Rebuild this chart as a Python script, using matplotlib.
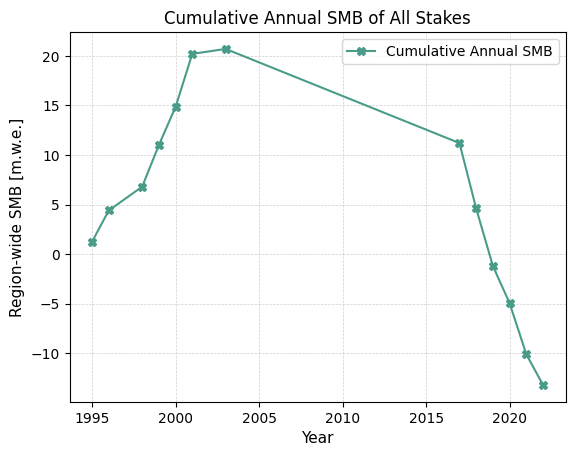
import matplotlib
matplotlib.use("Agg")
import matplotlib.pyplot as plt

years = [1995, 1996, 1998, 1999, 2000, 2001, 2003, 2017, 2018, 2019, 2020, 2021, 2022]
cum_smb = [1.25, 4.4, 6.8, 11.0, 14.85, 20.2, 20.7, 11.2, 4.6, -1.2, -4.95, -10.1, -13.2]

fig, ax = plt.subplots(figsize=(6.4, 4.8), dpi=100)
ax.plot(years, cum_smb, marker='X', color='#4a9c8a', markersize=6, linewidth=1.5,
        label='Cumulative Annual SMB')
ax.set_title('Cumulative Annual SMB of All Stakes')
ax.set_xlabel('Year', fontsize=11)
ax.set_ylabel('Region-wide SMB [m.w.e.]', fontsize=11)
ax.grid(True, linestyle='--', linewidth=0.5, alpha=0.6)
ax.legend(loc='upper right')
fig.savefig('out.png', bbox_inches='tight')
